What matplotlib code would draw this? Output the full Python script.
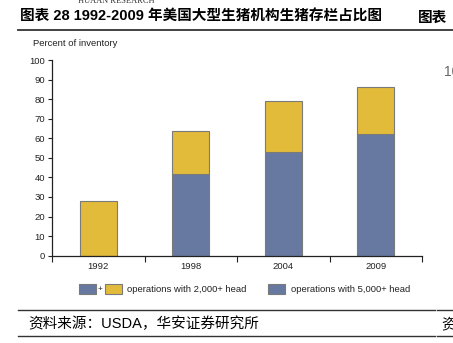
import matplotlib.pyplot as plt
from matplotlib.patches import Rectangle
from matplotlib.lines import Line2D
import numpy as np

plt.rcParams['font.family'] = ['Liberation Sans', 'DejaVu Sans']

years = ["1992", "1998", "2004", "2009"]
share_5000 = [0, 42, 53, 62]        # operations with 5,000+ head
share_2000 = [28, 63.5, 79, 86]     # operations with 2,000+ head (total)

blue = "#6779a1"
yellow = "#e2bb3b"
edge = "#7a7a7a"

W, H = 453, 343
fig = plt.figure(figsize=(W / 100, H / 100), dpi=100)

def fx(px):
    return px / W

def fy(py):
    return 1 - py / H

ax = fig.add_axes([fx(52), fy(255.7), fx(422) - fx(52), fy(60) - fy(255.7)])

x = np.arange(len(years))
extra = [t - b for t, b in zip(share_2000, share_5000)]
ax.bar(x, share_5000, 0.4, color=blue, edgecolor=edge, linewidth=0.8)
ax.bar(x, extra, 0.4, bottom=share_5000, color=yellow, edgecolor=edge, linewidth=0.8)

ax.set_xlim(-0.5, len(years) - 0.5)
ax.set_ylim(0, 100)
ax.set_yticks(range(0, 101, 10))
ax.tick_params(axis='y', labelsize=6.8, length=3, width=0.8, pad=2, colors='#222222')
ax.set_xticks(np.arange(len(years) + 1) - 0.5)
ax.set_xticklabels([])
ax.tick_params(axis='x', length=4, width=0.8, colors='#222222')
for i, yr in enumerate(years):
    ax.text(i, -5.5, yr, ha='center', va='center', fontsize=6.8, color='#222222')
for s in ['top', 'right']:
    ax.spines[s].set_visible(False)
for s in ['left', 'bottom']:
    ax.spines[s].set_linewidth(0.9)
    ax.spines[s].set_color('#222222')

fig.text(fx(33), fy(44), "Percent of inventory", fontsize=6.8, va='center', color='#222222')

# legend
def patch(x0, c):
    fig.add_artist(Rectangle((fx(x0), fy(294)), fx(17), fy(284) - fy(294),
                             facecolor=c, edgecolor=edge, linewidth=0.8))

patch(79, blue)
fig.text(fx(100), fy(289), "+", fontsize=6, va='center', ha='center', color='#222222')
patch(105, yellow)
fig.text(fx(127), fy(289.5), "operations with 2,000+ head", fontsize=6.8, va='center', color='#222222')
patch(268, blue)
fig.text(fx(291), fy(289.5), "operations with 5,000+ head", fontsize=6.8, va='center', color='#222222')

# document header / footer
title_fam = ['Liberation Sans', 'Noto Sans CJK SC']
cjk = ['Noto Sans CJK SC', 'DejaVu Sans']
fig.text(fx(20), fy(17), "图表 28 1992-2009 年美国大型生猪机构生猪存栏占比图", fontsize=10.5,
         fontweight='bold', family=title_fam, va='center')
fig.text(fx(418), fy(17), "图表", fontsize=10.5, fontweight='bold', family=cjk, va='center')
fig.text(fx(78), fy(1), "HUAAN RESEARCH", fontsize=6, family='Liberation Serif',
         va='center', color='#333333')
fig.text(fx(444), fy(72), "100", fontsize=10, color='#666666', va='center')

fig.add_artist(Line2D([fx(18), 1], [fy(30), fy(30)], color='#333333', linewidth=1.3))
fig.add_artist(Line2D([fx(18), fx(435)], [fy(310), fy(310)], color='#333333', linewidth=1.0))
fig.add_artist(Line2D([fx(437), 1], [fy(310), fy(310)], color='#333333', linewidth=1.0))
fig.add_artist(Line2D([fx(18), fx(435)], [fy(336), fy(336)], color='#333333', linewidth=1.0))
fig.add_artist(Line2D([fx(437), 1], [fy(336), fy(336)], color='#333333', linewidth=1.0))
fig.text(fx(28), fy(324), "资料来源：USDA，华安证券研究所", fontsize=10.5,
         family=['Liberation Sans', 'Noto Sans CJK SC'], va='center')
fig.text(fx(441), fy(324), "资", fontsize=10.5, family=cjk, va='center')

fig.savefig("out.png", dpi=100)
